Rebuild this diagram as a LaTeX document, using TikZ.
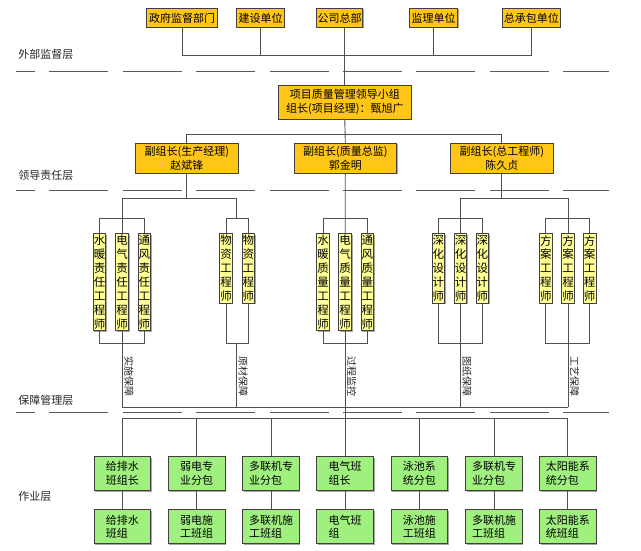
\documentclass[tikz,border=0pt]{standalone}
\usepackage{fontspec}
\setmainfont{Noto Sans CJK SC}
\usetikzlibrary{shadows}
\definecolor{goldc}{RGB}{255,198,24}
\definecolor{paley}{RGB}{255,255,150}
\definecolor{greenc}{RGB}{160,240,128}
\definecolor{linec}{RGB}{80,80,80}
\tikzset{
  base/.style={draw=black!75, line width=0.8pt, inner sep=0pt, align=center,
    font=\fontsize{11}{13.5}\selectfont, text=black,
    drop shadow={shadow xshift=1pt, shadow yshift=-1pt, fill=black!35, opacity=1}},
  goldbox/.style={base, fill=goldc},
  vbox/.style={base, fill=paley, minimum width=12.7pt, anchor=north,
    font=\fontsize{11.5}{13.9}\selectfont},
  gbox/.style={base, fill=greenc, minimum width=56.7pt, minimum height=34pt, align=left},
  conn/.style={draw=linec, line width=0.9pt},
  layer/.style={anchor=west, inner sep=0pt, font=\fontsize{11}{13}\selectfont, text=black!85},
  rlabel/.style={rotate=-90, anchor=south west, inner sep=0pt, font=\fontsize{10}{12}\selectfont, text=black!85},
  dline/.style={draw=black!65, line width=0.9pt, dash pattern=on 59pt off 14.4pt, dash phase=40.1pt}
}
\begin{document}
\begin{tikzpicture}[x=1pt,y=-1pt]
\useasboundingbox[fill=white] (0,0) rectangle (641,551);

% level coordinates
\coordinate (yT) at (0,55.7);
\coordinate (yL) at (0,134.3);
\coordinate (yD) at (0,198.3);
\coordinate (yBt) at (0,218.3);
\coordinate (yBb) at (0,343.3);
\coordinate (yG) at (0,407.3);
\coordinate (yW) at (0,418.3);
\coordinate (bm) at (236.7,0);

% layer labels
\node[layer] (l1) at (18.3,54.3) {外部监督层};
\node[layer] (l2) at (18.3,175) {领导责任层};
\node[layer] (l3) at (18.3,400) {保障管理层};
\node[layer] (l4) at (18.3,496.7) {作业层};

% dashed separators
\coordinate (s1a) at (16,71.7); \coordinate (s1b) at (609.3,71.7);
\coordinate (s2a) at (16,190.7); \coordinate (s2b) at (609.3,190.7);
\coordinate (s3a) at (16,412.7); \coordinate (s3b) at (609.3,412.7);
\draw[dline] (s1a) -- (s1b);
\draw[dline] (s2a) -- (s2b);
\draw[dline] (s3a) -- (s3b);

% top row
\node[goldbox, minimum width=70.6pt, minimum height=19pt] (gov) at (182,17.8) {政府监督部门};
\node[goldbox, minimum width=47.6pt, minimum height=19pt] (build) at (260.5,17.8) {建设单位};
\node[goldbox, minimum width=46pt, minimum height=19pt] (hq) at (339.7,17.8) {公司总部};
\node[goldbox, minimum width=48.4pt, minimum height=19pt] (sup) at (433.5,17.8) {监理单位};
\node[goldbox, minimum width=57.3pt, minimum height=19pt] (gc) at (531.3,17.8) {总承包单位};

% leader
\node[goldbox, minimum width=132.4pt, minimum height=34pt] (lead) at (344.8,102) {项目质量管理领导小组\\组长(项目经理)：甄旭广};

% deputies
\node[goldbox, minimum width=102.7pt, minimum height=30pt] (d1) at (186.8,158.3) {副组长(生产经理)\\赵斌锋};
\node[goldbox, minimum width=102.7pt, minimum height=30pt] (d2) at (345.3,158.3) {副组长(质量总监)\\郭金明};
\node[goldbox, minimum width=102.3pt, minimum height=30pt] (d3) at (501.8,158.3) {副组长(总工程师)\\陈久贞};

% vertical boxes
\node[vbox, minimum height=97pt] (a1) at (99.5,233.3) {水\\暖\\责\\任\\工\\程\\师};
\node[vbox, minimum height=97pt] (a2) at (122.2,233.3) {电\\气\\责\\任\\工\\程\\师};
\node[vbox, minimum height=97pt] (a3) at (144.4,233.3) {通\\风\\责\\任\\工\\程\\师};
\node[vbox, minimum height=69.4pt] (b1) at (226,233.3) {物\\资\\工\\程\\师};
\node[vbox, minimum height=69.4pt] (b2) at (248.3,233.3) {物\\资\\工\\程\\师};
\node[vbox, minimum height=97pt] (c1) at (323,233.3) {水\\暖\\质\\量\\工\\程\\师};
\node[vbox, minimum height=97pt] (c2) at (345.2,233.3) {电\\气\\质\\量\\工\\程\\师};
\node[vbox, minimum height=97pt] (c3) at (367.3,233.3) {通\\风\\质\\量\\工\\程\\师};
\node[vbox, minimum height=69.4pt] (e1) at (438.3,233.3) {深\\化\\设\\计\\师};
\node[vbox, minimum height=69.4pt] (e2) at (460.5,233.3) {深\\化\\设\\计\\师};
\node[vbox, minimum height=69.4pt] (e3) at (482.3,233.3) {深\\化\\设\\计\\师};
\node[vbox, minimum height=69.4pt] (f1) at (545.8,233.3) {方\\案\\工\\程\\师};
\node[vbox, minimum height=69.4pt] (f2) at (568,233.3) {方\\案\\工\\程\\师};
\node[vbox, minimum height=69.4pt] (f3) at (589.7,233.3) {方\\案\\工\\程\\师};

% rotated labels
\node[rlabel] (ra) at (124,356) {实施保障};
\node[rlabel] (rb) at (238.4,356) {原材保障};
\node[rlabel] (rc) at (347,356) {过程监控};
\node[rlabel] (re) at (462.2,356) {图纸保障};
\node[rlabel] (rf) at (569.7,356) {工艺保障};

% green boxes
\node[gbox] (w1) at (122.3,473.5) {给排水\\班组长};
\node[gbox] (w2) at (196.7,473.5) {弱电专\\业分包};
\node[gbox] (w3) at (271,473.5) {多联机专\\业分包};
\node[gbox] (w4) at (345.2,473.5) {电气班\\组长};
\node[gbox] (w5) at (419.3,473.5) {泳池系\\统分包};
\node[gbox] (w6) at (494,473.5) {多联机专\\业分包};
\node[gbox] (w7) at (567.9,473.5) {太阳能系\\统分包};
\node[gbox] (v1) at (122.3,526.8) {给排水\\班组};
\node[gbox] (v2) at (196.7,526.8) {弱电施\\工班组};
\node[gbox] (v3) at (271,526.8) {多联机施\\工班组};
\node[gbox] (v4) at (345.2,526.8) {电气班\\组};
\node[gbox] (v5) at (419.3,526.8) {泳池施\\工班组};
\node[gbox] (v6) at (494,526.8) {多联机施\\工班组};
\node[gbox] (v7) at (567.9,526.8) {太阳能系\\统班组};

% ---- connectors ----
\draw[conn] (gov.south) |- (gc.south |- yT) -- (gc.south);
\draw[conn] (build.south) -- (build.south |- yT);
\draw[conn] (sup.south) -- (sup.south |- yT);
\draw[conn] (lead.north) -- (lead.north |- hq.south);
\draw[conn] (lead.south) -- (d2.north);
\draw[conn] (d1.north) |- (d3.north |- yL) -- (d3.north);
\draw[conn] (d1.south) -- (d1.south |- yD);
\draw[conn] (a2.north) -- (a2.north |- yD) -- (bm |- yD) -- (bm |- yBt);
\draw[conn] (a1.north) |- (a3.north |- yBt) -- (a3.north);
\draw[conn] (b1.north) |- (b2.north |- yBt) -- (b2.north);
\draw[conn] (a1.south) |- (a3.south |- yBb) -- (a3.south);
\draw[conn] (b1.south) |- (b2.south |- yBb) -- (b2.south);
\draw[conn] (a2.south) -- (a2.south |- yG);
\draw[conn] (bm |- yBb) -- (bm |- yG);
\draw[conn] (d2.south) -- (c2.north);
\draw[conn] (c1.north) |- (c3.north |- yBt) -- (c3.north);
\draw[conn] (c1.south) |- (c3.south |- yBb) -- (c3.south);
\draw[conn] (c2.south) -- (w4.north);
\draw[conn] (d3.south) -- (d3.south |- yD);
\draw[conn] (e2.north) -- (e2.north |- yD) -- (f2.north |- yD) -- (f2.north);
\draw[conn] (e1.north) |- (e3.north |- yBt) -- (e3.north);
\draw[conn] (f1.north) |- (f3.north |- yBt) -- (f3.north);
\draw[conn] (e1.south) |- (e3.south |- yBb) -- (e3.south);
\draw[conn] (f1.south) |- (f3.south |- yBb) -- (f3.south);
\draw[conn] (e2.south) -- (e2.south |- yG);
\draw[conn] (f2.south) -- (f2.south |- yG);
\draw[conn] (a2.south |- yG) -- (f2.south |- yG);
\draw[conn] (w1.north) |- (w7.north |- yW) -- (w7.north);
\foreach \i in {2,3,5,6} { \draw[conn] (w\i.north) -- (w\i.north |- yW); }
\foreach \i in {1,...,7} { \draw[conn] (w\i.south) -- (v\i.north); }
\end{tikzpicture}
\end{document}
